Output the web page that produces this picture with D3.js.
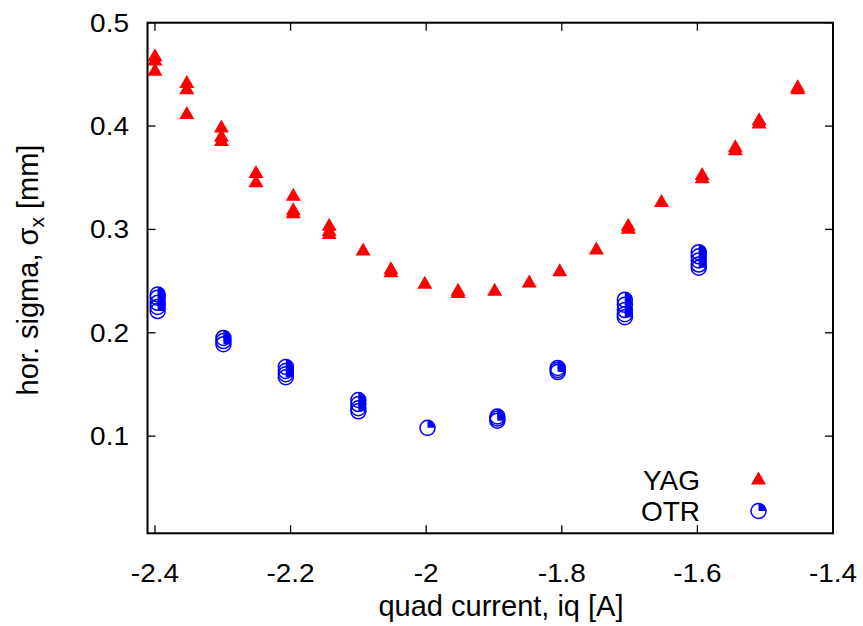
<!DOCTYPE html>
<html>
<head>
<meta charset="utf-8">
<script src="https://cdn.jsdelivr.net/npm/d3@7"></script>
<style>
  body { margin: 0; background: #fff; }
  svg text { font-family: "Liberation Sans", Arial, sans-serif; fill: #000; }
</style>
</head>
<body>
<div id="chart"></div>
<script>
// YAG screen, several shots per current setting
var yagCurrent = [-2.400, -2.400, -2.400, -2.353, -2.353, -2.353, -2.302, -2.302, -2.302,
                  -2.251, -2.251, -2.196, -2.196, -2.196, -2.143, -2.143, -2.143, -2.093,
                  -2.052, -2.052, -2.002, -1.953, -1.953, -1.899, -1.848, -1.803, -1.749,
                  -1.702, -1.702, -1.653, -1.593, -1.593, -1.544, -1.544, -1.509, -1.509,
                  -1.452, -1.452];
var yagSigma   = [0.469, 0.465, 0.455, 0.443, 0.437, 0.413, 0.400, 0.391, 0.387,
                  0.356, 0.347, 0.334, 0.320, 0.317, 0.305, 0.300, 0.297, 0.281,
                  0.263, 0.260, 0.249, 0.242, 0.240, 0.242, 0.250, 0.261, 0.282,
                  0.305, 0.302, 0.328, 0.354, 0.351, 0.381, 0.378, 0.407, 0.404,
                  0.439, 0.437];

// OTR screen
var otrCurrent = [-2.396, -2.396, -2.396, -2.396, -2.396, -2.299, -2.299, -2.299,
                  -2.207, -2.207, -2.207, -2.207, -2.100, -2.100, -2.100, -2.100,
                  -1.998, -1.895, -1.895, -1.895, -1.806, -1.806, -1.806,
                  -1.707, -1.707, -1.707, -1.707, -1.707, -1.598, -1.598, -1.598, -1.598, -1.598];
var otrSigma   = [0.237, 0.234, 0.229, 0.225, 0.221, 0.195, 0.192, 0.189,
                  0.167, 0.163, 0.160, 0.157, 0.135, 0.131, 0.127, 0.124,
                  0.108, 0.119, 0.117, 0.115, 0.166, 0.164, 0.162,
                  0.232, 0.227, 0.222, 0.218, 0.215, 0.278, 0.274, 0.270, 0.266, 0.263];

var xTicks = [-2.4, -2.2, -2.0, -1.8, -1.6, -1.4];
var yTicks = [0.1, 0.2, 0.3, 0.4, 0.5];
var seriesNames = ["YAG", "OTR"];

(function() {
    var W = 863, H = 626,
        left = 147.5, right = 833, top = 22.7, bottom = 533.3;

    var svg = d3.select("#chart").append("svg")
        .attr("width", W).attr("height", H);

    var x = d3.scaleLinear().domain([-2.411, -1.4]).range([left, right]);
    var y = d3.scaleLinear().domain([0.006, 0.5]).range([bottom, top]);

    // sx stretches text sideways, the tick labels look a bit wide
    function label(tx, ty, str, size, anchor, sx, rot) {
        return svg.append("text")
            .attr("transform", "translate(" + tx + "," + ty + ") scale(" + sx + ",1)" + (rot ? " rotate(" + rot + ")" : ""))
            .attr("text-anchor", anchor)
            .style("font-size", size + "px")
            .text(str);
    }

    // ticks, mirrored on all four sides, pointing inward
    var tl = 8;
    var g = svg.append("g").attr("stroke", "#000").attr("stroke-width", 1.3);
    xTicks.forEach(function(v) {
        g.append("line").attr("x1", x(v)).attr("x2", x(v)).attr("y1", bottom).attr("y2", bottom - tl);
        g.append("line").attr("x1", x(v)).attr("x2", x(v)).attr("y1", top).attr("y2", top + tl);
    });
    yTicks.forEach(function(v) {
        g.append("line").attr("x1", left).attr("x2", left + tl).attr("y1", y(v)).attr("y2", y(v));
        g.append("line").attr("x1", right).attr("x2", right - tl).attr("y1", y(v)).attr("y2", y(v));
    });

    xTicks.forEach(function(v) {
        label(x(v), 582, String(+v.toFixed(1)), 25, "middle", 1.12);
    });
    yTicks.forEach(function(v) {
        label(129, y(v) + 9, v.toFixed(1), 25, "end", 1.12);
    });

    // axis titles
    label(501, 616, "quad current, iq [A]", 29, "middle", 1);
    var yt = label(38, 270, "", 29, "middle", 1, -90);
    yt.append("tspan").text("hor. sigma, \u03c3");
    yt.append("tspan").attr("dy", 6).style("font-size", "21px").text("x");
    yt.append("tspan").attr("dy", -6).text(" [mm]");

    // markers
    function tri(sel, cx, cy) {
        var w = 15, h = 13;
        sel.append("path")
            .attr("d", "M" + cx + "," + (cy - h / 2) + "L" + (cx + w / 2) + "," + (cy + h / 2) + "L" + (cx - w / 2) + "," + (cy + h / 2) + "Z")
            .attr("fill", "#ff0000");
    }
    var quarter = d3.arc().innerRadius(0).outerRadius(7.5).startAngle(0).endAngle(Math.PI / 2);
    function ring(sel, cx, cy) {
        var c = sel.append("g").attr("transform", "translate(" + cx + "," + cy + ")");
        c.append("circle").attr("r", 7.5).attr("fill", "none").attr("stroke", "#0000ff").attr("stroke-width", 1.5);
        c.append("path").attr("d", quarter()).attr("fill", "#0000ff");
    }

    var pts = svg.append("g");
    yagCurrent.forEach(function(c, i) { tri(pts, x(c), y(yagSigma[i])); });
    otrCurrent.forEach(function(c, i) { ring(pts, x(c), y(otrSigma[i])); });

    // legend
    label(700, 490, seriesNames[0], 28, "end", 1);
    label(700, 521, seriesNames[1], 28, "end", 1);
    tri(svg, 758.5, 478);
    ring(svg, 758.5, 511);

    // frame
    svg.append("rect")
        .attr("x", left).attr("y", top)
        .attr("width", right - left).attr("height", bottom - top)
        .attr("fill", "none").attr("stroke", "#000").attr("stroke-width", 2);
})();
</script>
</body>
</html>
